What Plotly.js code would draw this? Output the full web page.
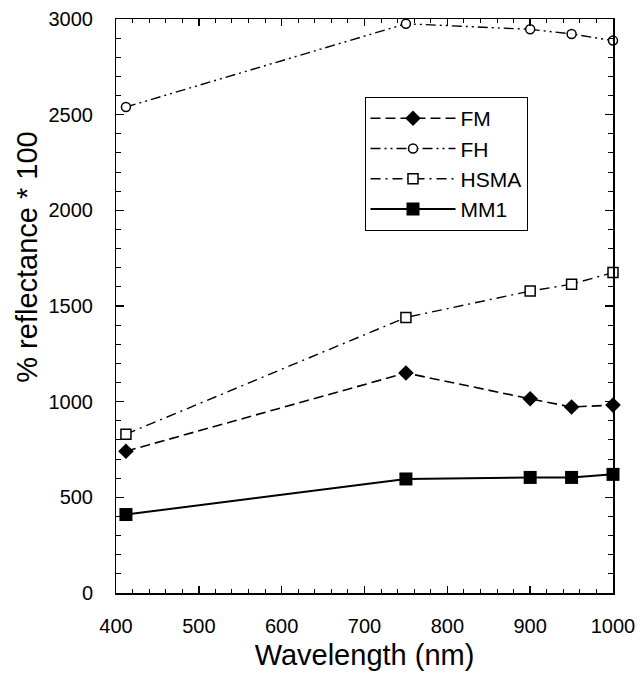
<!DOCTYPE html>
<html>
<head>
<meta charset="utf-8">
<script src="https://cdn.plot.ly/plotly-3.0.1.min.js"></script>
<style>html,body{margin:0;padding:0;background:#fff;}#chart{width:642px;height:679px;}</style>
</head>
<body>
<div id="chart"></div>
<script>
// Data
const wavelength = [412, 750, 900, 950, 1000];
const FM   = [741, 1150, 1015, 972, 982];
const FH   = [2540, 2975, 2946, 2922, 2887];
const HSMA = [830, 1440, 1578, 1614, 1675];
const MM1  = [410, 596, 604, 604, 620];
const xRange = [400, 1000], xTickStep = 100, xMinorStep = 20;
const yRange = [0, 3000], yTickStep = 500, yMinorStep = 100;

const FONT = 'Liberation Sans, Arial, sans-serif';

// Two series on the framed axes (x, y), two on the identical overlay axes (x2, y2)
const traces = [
  {name: 'FM', x: wavelength, y: FM, mode: 'lines+markers', xaxis: 'x', yaxis: 'y',
   line: {color: '#000', width: 1.6, dash: '10px,5px'},
   marker: {symbol: 'diamond', size: 12, color: '#000'}},
  {name: 'FH', x: wavelength, y: FH, mode: 'lines+markers', xaxis: 'x', yaxis: 'y',
   line: {color: '#000', width: 1.4, dash: '10px,4px,2px,4px,2px,4px'},
   marker: {symbol: 'circle', size: 9, color: '#fff', line: {color: '#000', width: 1.5}}},
  {name: 'HSMA', x: wavelength, y: HSMA, mode: 'lines+markers', xaxis: 'x2', yaxis: 'y2',
   line: {color: '#000', width: 1.4, dash: '10px,5px,2px,5px'},
   marker: {symbol: 'square', size: 10, color: '#fff', line: {color: '#000', width: 1.5}}},
  {name: 'MM1', x: wavelength, y: MM1, mode: 'lines+markers', xaxis: 'x2', yaxis: 'y2',
   line: {color: '#000', width: 2},
   marker: {symbol: 'square', size: 13, color: '#000'}}
];
traces.forEach(t => { t.cliponaxis = false; });

// Frame axes: visible inside ticks (major + minor) on all four sides, no labels
const tickAxis = (range, step, tick0, minorStep, len, mlen) => ({
  range: range, tickmode: 'linear', tick0: tick0, dtick: step,
  ticks: 'inside', ticklen: len, tickwidth: 1.5, tickcolor: '#000',
  minor: {dtick: minorStep, ticks: 'inside', ticklen: mlen, tickwidth: 1, tickcolor: '#000'},
  showline: true, linecolor: '#000', linewidth: 1.5, mirror: 'allticks',
  showticklabels: false, showgrid: false, zeroline: false
});
// Label axes: same range; transparent outside ticks only push the labels off the frame
const labelAxis = (range, step, tick0, len, over, anchor) => ({
  range: range, overlaying: over, anchor: anchor,
  tickmode: 'linear', tick0: tick0, dtick: step,
  ticks: 'outside', ticklen: len, tickcolor: 'rgba(0,0,0,0)',
  showline: false, showgrid: false, zeroline: false,
  tickfont: {family: FONT, size: 20, color: '#000'}
});

const xaxis2 = labelAxis(xRange, xTickStep, 400, 15, 'x', 'y2');
xaxis2.side = 'bottom';
xaxis2.title = {text: 'Wavelength (nm)', font: {family: FONT, size: 29, color: '#000'}, standoff: 8};
const yaxis2 = labelAxis(yRange, yTickStep, 0, 18, 'y', 'x2');
yaxis2.side = 'left';

const layout = {
  width: 642, height: 679,
  paper_bgcolor: '#fff', plot_bgcolor: '#fff',
  margin: {l: 116, r: 29, t: 19, b: 86},
  font: {family: FONT, color: '#000', size: 20},
  showlegend: true,
  legend: {
    x: 0.50, y: 0.864, xanchor: 'left', yanchor: 'top',
    bgcolor: '#fff', bordercolor: '#000', borderwidth: 1,
    itemwidth: 85,
    font: {family: FONT, size: 21, color: '#000'}
  },
  xaxis: tickAxis(xRange, xTickStep, 400, xMinorStep, 7, 4),
  yaxis: tickAxis(yRange, yTickStep, 0, yMinorStep, 8, 5),
  xaxis2: xaxis2,
  yaxis2: yaxis2,
  annotations: [{
    text: '% reflectance * 100', textangle: -90,
    xref: 'paper', yref: 'paper', x: -0.178, y: 0.585,
    xanchor: 'center', yanchor: 'middle', showarrow: false,
    font: {family: FONT, size: 29, color: '#000'}
  }]
};

Plotly.newPlot('chart', traces, layout, {displayModeBar: false, staticPlot: true});
</script>
</body>
</html>
